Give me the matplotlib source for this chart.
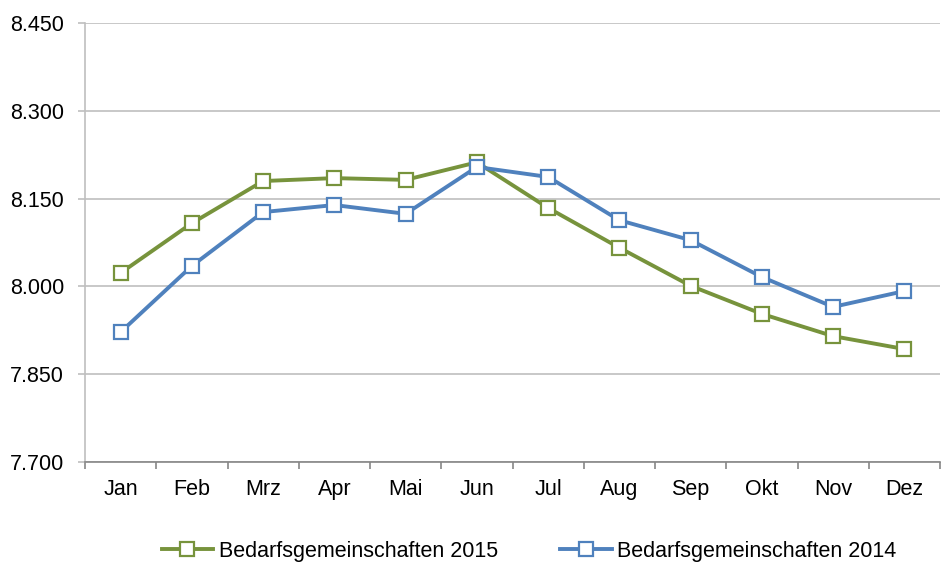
import numpy as np
import matplotlib.pyplot as plt
from matplotlib.ticker import FuncFormatter

plt.rcParams['font.family'] = ['Liberation Sans', 'DejaVu Sans']

months = ['Jan', 'Feb', 'Mrz', 'Apr', 'Mai', 'Jun', 'Jul', 'Aug', 'Sep', 'Okt', 'Nov', 'Dez']
bg_2015 = [8023, 8108, 8180, 8185, 8182, 8212, 8134, 8066, 8001, 7953, 7915, 7893]
bg_2014 = [7922, 8035, 8127, 8139, 8124, 8204, 8187, 8113, 8079, 8016, 7965, 7992]
y_ticks = [7700, 7850, 8000, 8150, 8300, 8450]

green = '#77933C'
blue = '#4F81BD'
fs = 15.5

fig = plt.figure(figsize=(9.52, 5.63), dpi=100)
ax = fig.add_axes([85 / 952, 1 - 462 / 563, 855 / 952, 439 / 563])

x = np.arange(len(months))
ax.plot(x, bg_2015, color=green, lw=2.8, marker='s', ms=9.5, mfc='white',
        mec=green, mew=1.6, label='Bedarfsgemeinschaften 2015', zorder=3)
ax.plot(x, bg_2014, color=blue, lw=2.8, marker='s', ms=9.5, mfc='white',
        mec=blue, mew=1.6, label='Bedarfsgemeinschaften 2014', zorder=3)

ax.set_xlim(-0.5, len(months) - 0.5)
ax.set_ylim(y_ticks[0], y_ticks[-1])
ax.set_yticks(y_ticks)
ax.yaxis.set_major_formatter(FuncFormatter(lambda v, p: f'{v / 1000:.3f}'))
ax.grid(axis='y', color='#BFBFBF', lw=1.2)
ax.set_axisbelow(True)

# category labels centred, tick marks at boundaries
ax.set_xticks(x)
ax.set_xticklabels(months)
ax.set_xticks(np.arange(-0.5, len(months)), minor=True)
ax.tick_params(axis='x', which='major', length=0, pad=12, labelsize=fs)
ax.tick_params(axis='x', which='minor', length=5, color='#868686', width=1.2)
ax.tick_params(axis='y', length=5, color='#BFBFBF', width=1.2, pad=10, labelsize=fs)

for s in ['top', 'right']:
    ax.spines[s].set_visible(False)
ax.spines['left'].set_color('#BFBFBF')
ax.spines['left'].set_linewidth(1.2)
ax.spines['bottom'].set_color('#868686')
ax.spines['bottom'].set_linewidth(1.2)

fig.legend(loc='center', bbox_to_anchor=(529 / 952, 1 - 551 / 563), ncol=2,
           frameon=False, fontsize=fs, columnspacing=2.9, handlelength=2.4,
           handletextpad=0.25)

fig.savefig('out.png', dpi=100)
